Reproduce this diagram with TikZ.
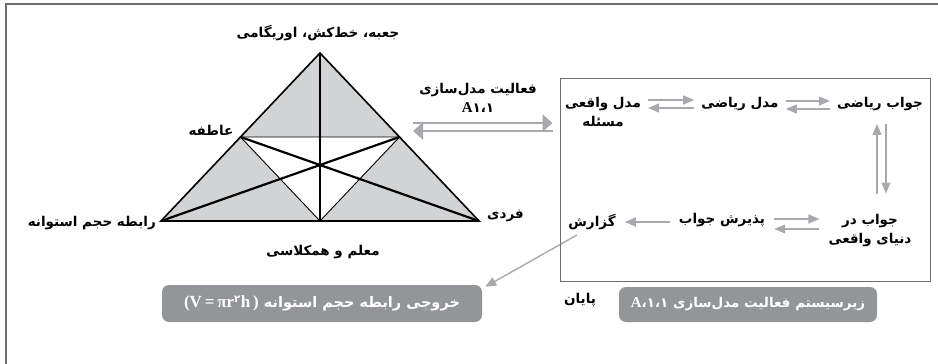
\documentclass[tikz,border=0pt]{standalone}
\usepackage{fontspec}
\usetikzlibrary{arrows.meta,calc}
\TeXXeTstate=1
\newfontfamily\persian[Script=Arabic]{DejaVu Sans}
\newfontfamily\latin{Liberation Serif}
\definecolor{trianglegrey}{HTML}{D1D3D4}
\definecolor{arrowgrey}{HTML}{A7A9AC}
\definecolor{tabgrey}{HTML}{939598}
\definecolor{framegrey}{HTML}{6D6E71}
\pgfdeclarelayer{nodelayer}
\pgfdeclarelayer{edgelayer}
\pgfsetlayers{edgelayer,nodelayer,main}
\tikzstyle{label}=[font=\persian\bfseries\fontsize{13.5}{19}\selectfont, inner sep=1pt, align=center]
\tikzstyle{tab}=[label, fill=tabgrey, text=white, rounded corners=7pt]
\tikzstyle{frame}=[draw=framegrey, line width=1pt, shape=rectangle]
\tikzstyle{thin edge}=[draw=black, line width=0.9pt]
\tikzstyle{thick edge}=[draw=black, line width=2.2pt]
\tikzstyle{outline}=[draw=black, line width=1.6pt, line join=miter]
\tikzstyle{directed edge}=[draw=arrowgrey, line width=1.4pt, -{Triangle[length=11pt,width=9pt]}]
\tikzstyle{directed edge wide}=[draw=arrowgrey, line width=2.4pt, -{Triangle[length=10pt,width=17pt]}]
\newcommand{\latinbig}{\latin\bfseries\fontsize{15}{18}\selectfont}

\begin{document}
\begin{tikzpicture}[x=1pt, y=-1pt]
	\useasboundingbox (0,0) rectangle (938,364);
	\draw [draw=framegrey, line width=1.5pt] (6,364) -- (6,4) -- (938,4);
	\begin{pgfonlayer}{nodelayer}
		% triangle labels
		\node [style=label] (0) at (318,33) {\beginR جعبه، خط‌کش، اوریگامی\endR};
		\node [style=label] (1) at (211,130) {\beginR عاطفه\endR};
		\node [style=label, anchor=east] (2) at (157,223) {\beginR رابطه حجم استوانه\endR};
		\node [style=label, anchor=west] (3) at (486,216) {\beginR فردی\endR};
		\node [style=label] (4) at (323,252) {\beginR معلم و همکلاسی\endR};
		\node [style=label] (5) at (478,98) {\beginR فعالیت مدل‌سازی\endR\\\beginL{\latinbig A}۱،۱\endL};
		% subsystem box
		\node [style=frame, minimum width=370pt, minimum height=203pt] (6) at (745,179.5) {};
		\node [style=label] (7) at (603,112) {\beginR مدل واقعی\endR\\\beginR مسئله\endR};
		\node [style=label] (8) at (740,104) {\beginR مدل ریاضی\endR};
		\node [style=label] (9) at (880,104) {\beginR جواب ریاضی\endR};
		\node [style=label] (10) at (870,231) {\beginR جواب در\endR\\\beginR دنیای واقعی\endR};
		\node [style=label] (11) at (722,220) {\beginR پذیرش جواب\endR};
		\node [style=label] (12) at (592,222) {\beginR گزارش\endR};
		\node [style=label] (13) at (580,300) {\beginR پایان\endR};
		\node [style=tab, minimum width=258pt, minimum height=35pt] (14) at (748,304.5) {\beginR زیرسیستم فعالیت مدل‌سازی \beginL{\latinbig A}،\kern0pt ۱،۱\endL\endR};
		\node [style=tab, font=\persian\bfseries\fontsize{14.5}{19}\selectfont, minimum width=320pt, minimum height=37pt] (15) at (322,303.5) {\beginR خروجی رابطه حجم استوانه \beginL{\latinbig\fontsize{17}{19}\selectfont(V\,=\,πr}\textsuperscript{۲}{\latinbig\fontsize{17}{19}\selectfont h\,)}\endL\endR};
		\coordinate (20) at (320,53);
		\coordinate (21) at (161,221);
		\coordinate (22) at (479,221);
		\coordinate (23) at ($(20)!0.5!(21)$);
		\coordinate (24) at ($(20)!0.5!(22)$);
		\coordinate (25) at ($(21)!0.5!(22)$);
		\coordinate (26) at (413,127);
	\end{pgfonlayer}
	\begin{pgfonlayer}{edgelayer}
		\fill [trianglegrey] (20) -- (21) -- (22) -- cycle;
		\fill [white] (23) -- (24) -- (25) -- cycle;
		\draw [style=thin edge] (23) -- (24) -- (25) -- cycle;
		\draw [style=thick edge] (20) to (25);
		\draw [style=thick edge] (21) to (24);
		\draw [style=thick edge] (22) to (23);
		\draw [style=outline] (20) -- (21) -- (22) -- cycle;
		\draw [style=directed edge wide] ($(26)+(0,-4)$) to ($(6.west |- 26)+(-7,-4)$);
		\draw [style=directed edge wide] ($(6.west |- 26)+(-7,4)$) to ($(26)+(0,4)$);
		\draw [style=directed edge] ($(7.east |- 8.west)+(6,-4)$) to ($(8.west)+(-6,-4)$);
		\draw [style=directed edge] ($(8.west)+(-6,4)$) to ($(7.east |- 8.west)+(6,4)$);
		\draw [style=directed edge] ($(8.east)+(6,-3)$) to ($(9.west)+(-6,-3)$);
		\draw [style=directed edge] ($(9.west)+(-6,5)$) to ($(8.east)+(6,5)$);
		\draw [style=directed edge] ($(9.south |- 10.north)+(-3,-20)$) to ($(9.south)+(-3,12)$);
		\draw [style=directed edge] ($(9.south)+(6,12)$) to ($(9.south |- 10.north)+(6,-20)$);
		\draw [style=directed edge] ($(11.east)+(8,-1)$) to ($(10.west |- 11.east)+(-8,-1)$);
		\draw [style=directed edge] ($(10.west |- 11.east)+(-8,9)$) to ($(11.east)+(8,9)$);
		\draw [style=directed edge] ($(11.west)+(-8,2)$) to ($(12.east)+(8,0)$);
		\draw [style=directed edge] ($(12.south)+(-15,4)$) to ($(15.north east)+(3,2)$);
	\end{pgfonlayer}
\end{tikzpicture}
\end{document}
